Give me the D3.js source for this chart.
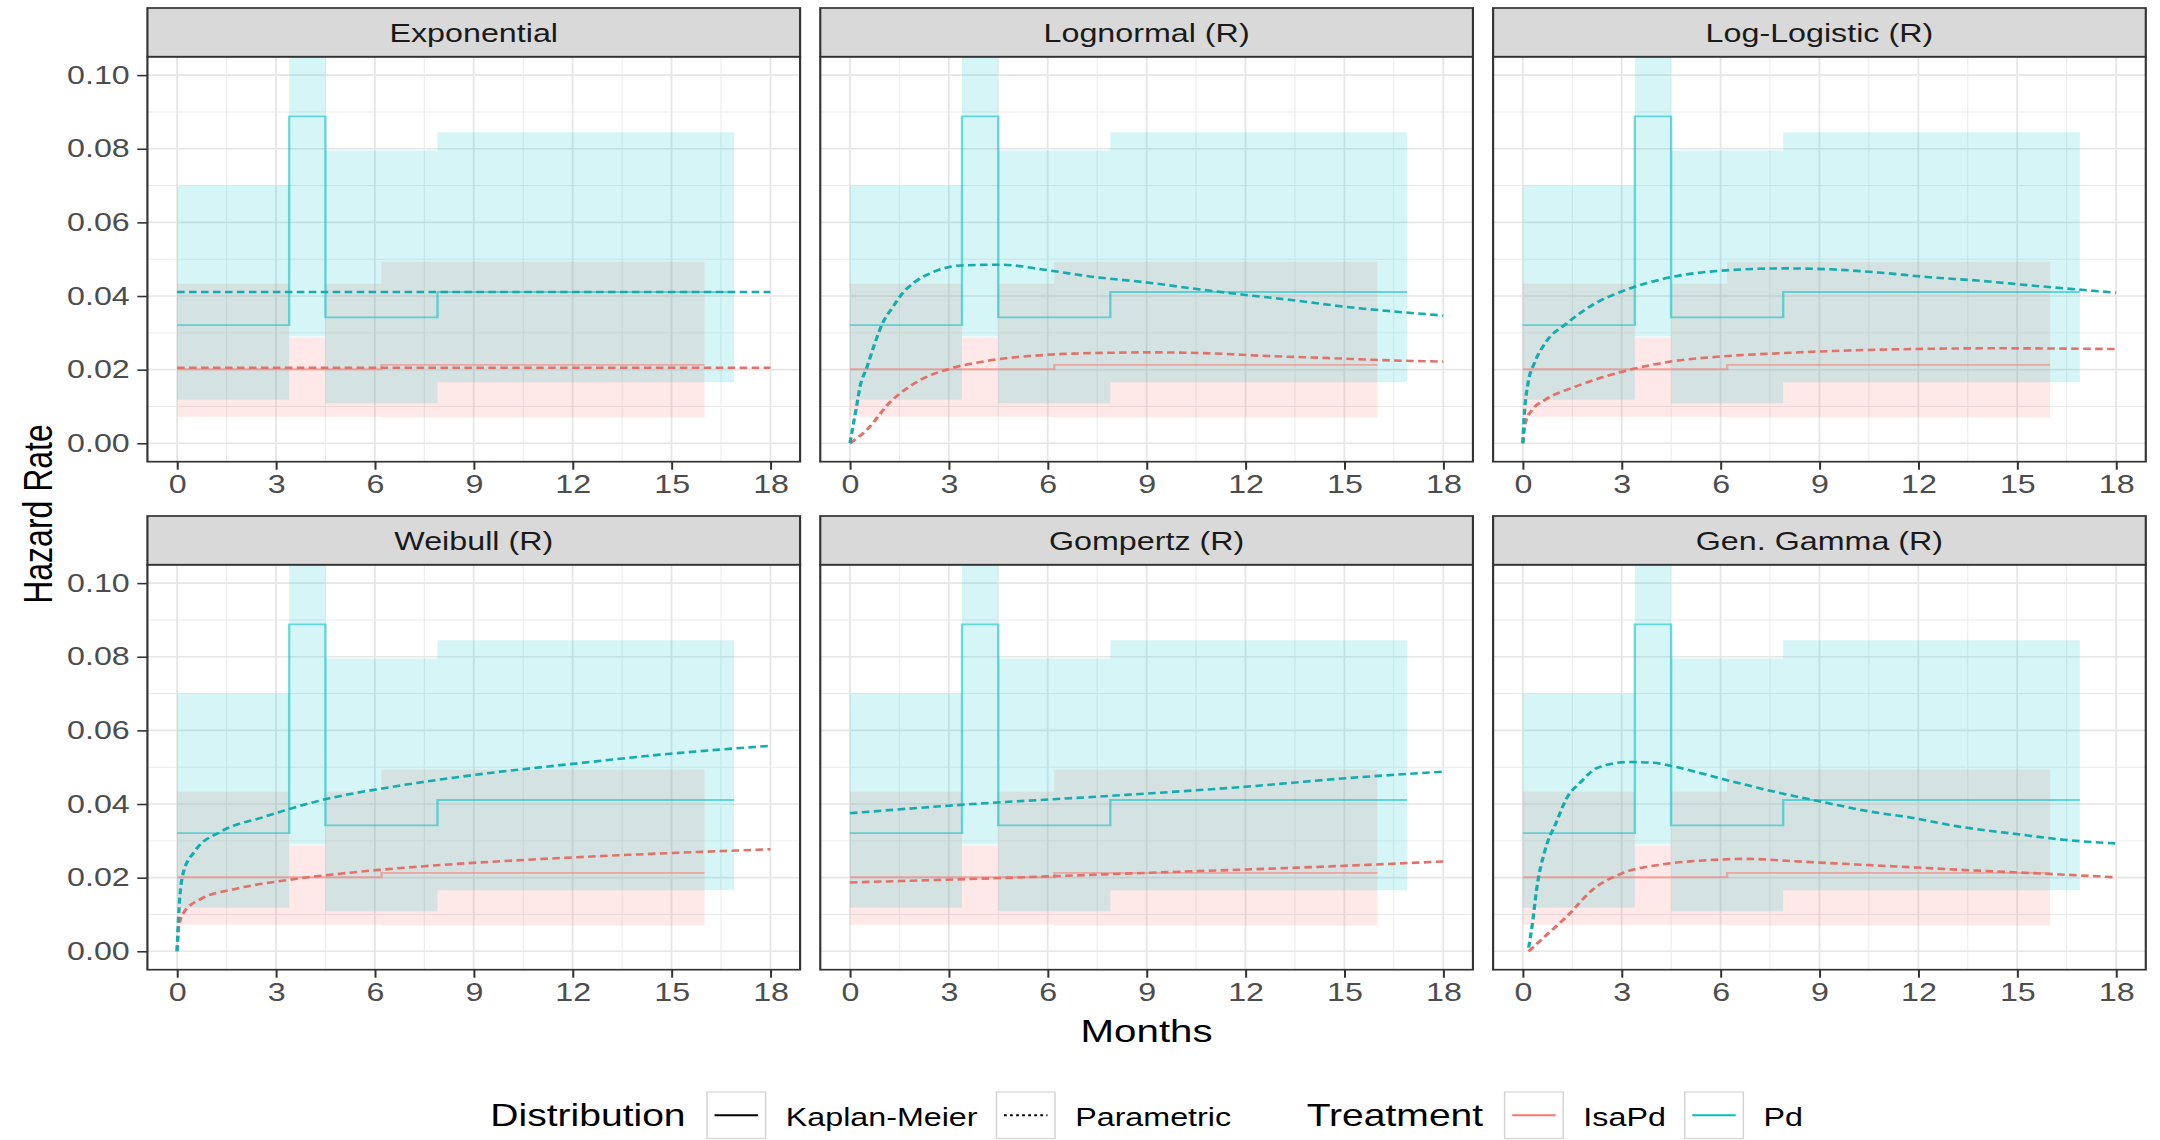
<!DOCTYPE html>
<html>
<head>
<meta charset="utf-8">
<script src="https://cdn.jsdelivr.net/npm/d3@7"></script>
<style>
  body { margin: 0; background: #fff; }
  svg { display: block; font-family: "Liberation Sans", Arial, sans-serif; }
</style>
</head>
<body>
<script>
// ---- data ----
var models = ["Exponential", "Lognormal (R)", "Log-Logistic (R)", "Weibull (R)", "Gompertz (R)", "Gen. Gamma (R)"];
var monthTicks = [0, 3, 6, 9, 12, 15, 18];
var hazardTicks = [0, 0.02, 0.04, 0.06, 0.08, 0.10];
var treatments = ["IsaPd", "Pd"];
var colours = { IsaPd: "#F8766D", Pd: "#00BFC4" };
var lineColours = { IsaPd: "#e2716a", Pd: "#13adb0" };

// Kaplan-Meier piecewise hazards with 95% band (same in every panel)
var kmIsaStart = [0, 3.4, 4.5, 6.2];
var kmIsaEnd = 16.0;
var kmIsaHazard = [0.0201, 0.0201, 0.0201, 0.0213];
var kmIsaLower = [0.0072, 0.0072, 0.0072, 0.0070];
var kmIsaUpper = [0.0433, 0.0288, 0.0433, 0.0493];

var kmPdStart = [0, 3.4, 4.5, 7.9];
var kmPdEnd = 16.9;
var kmPdHazard = [0.0321, 0.0888, 0.0342, 0.0411];
var kmPdLower = [0.0118, 0.0290, 0.0109, 0.0166];
var kmPdUpper = [0.0700, 0.1600, 0.0795, 0.0845];

// parametric hazard curves [month, hazard]
var expIsa = [[0, 0.0205], [18, 0.0205]];
var expPd = [[0, 0.0411], [18, 0.0411]];

var lnormIsa = [[0, 0], [0.51, 0.0036], [1.19, 0.0109], [2.14, 0.0172], [3.09, 0.0204], [4.17, 0.0224],
  [5.93, 0.0240], [7.97, 0.0246], [9.05, 0.0247], [10.7, 0.0245], [12.7, 0.0237], [14.7, 0.0231],
  [16.1, 0.0226], [18, 0.0222]];
var lnormPd = [[0, 0], [0.18, 0.009], [0.31, 0.0155], [0.51, 0.0205], [0.75, 0.027], [0.99, 0.0326],
  [1.3, 0.037], [1.6, 0.0408], [2.0, 0.044], [2.55, 0.0466], [3.36, 0.0483], [4.58, 0.0485],
  [5.93, 0.0471], [7.29, 0.0453], [8.98, 0.0437], [10.7, 0.0417], [12.0, 0.0403], [13.4, 0.0389],
  [15.0, 0.0371], [16.5, 0.0358], [18, 0.0347]];

var llogIsa = [[0, 0], [0.09, 0.0059], [0.29, 0.0091], [0.68, 0.0118], [1.6, 0.0154], [3.04, 0.0195],
  [4.48, 0.0222], [6.05, 0.0236], [7.89, 0.0245], [9.86, 0.0252], [11.8, 0.0256], [14.4, 0.0258],
  [18, 0.0256]];
var llogPd = [[0, 0], [0.03, 0.0054], [0.16, 0.0163], [0.35, 0.0217], [0.68, 0.0272], [1.34, 0.0326],
  [2.12, 0.0376], [3.17, 0.0418], [4.48, 0.0451], [6.05, 0.0469], [7.89, 0.0475], [9.2, 0.0473],
  [10.77, 0.0464], [12.35, 0.0451], [13.79, 0.0442], [15.5, 0.0428], [16.8, 0.0418], [18, 0.0409]];

var weibIsa = [[0, 0], [0.05, 0.0068], [0.2, 0.0105], [0.7, 0.0141], [1.8, 0.0170], [3.39, 0.0194],
  [5.76, 0.0218], [8.1, 0.0235], [10.5, 0.0248], [13.7, 0.0262], [18, 0.0277]];
var weibPd = [[0, 0], [0.06, 0.0117], [0.19, 0.0214], [0.54, 0.0272], [1.33, 0.0325], [2.6, 0.0364],
  [4.5, 0.0413], [6.55, 0.0447], [8.93, 0.0478], [12.1, 0.0510], [15.26, 0.0539], [18, 0.0558]];

var gompIsa = [[0, 0.0187], [4.22, 0.0198], [9.31, 0.0214], [14.4, 0.0230], [18, 0.0244]];
var gompPd = [[0, 0.0375], [3.4, 0.0398], [8.04, 0.0423], [11.86, 0.0446], [15.04, 0.0470], [18, 0.0488]];

var ggamIsa = [[0.18, 0], [0.68, 0.0041], [1.34, 0.0095], [2.13, 0.0168], [3.04, 0.0213], [4.23, 0.0236],
  [5.54, 0.0247], [6.85, 0.0251], [8.16, 0.0245], [9.87, 0.0237], [11.84, 0.0228], [13.8, 0.0219],
  [15.77, 0.0211], [18, 0.0201]];
var ggamPd = [[0.18, 0.001], [0.3, 0.008], [0.42, 0.0168], [0.68, 0.0276], [1.01, 0.0349], [1.34, 0.0417],
  [1.73, 0.0457], [2.26, 0.0498], [3.18, 0.0514], [3.96, 0.0512], [4.62, 0.0501], [6.06, 0.0468],
  [7.9, 0.0428], [8.96, 0.0408], [10.5, 0.0380], [11.84, 0.0362], [13.15, 0.0340], [15.1, 0.0317],
  [16.4, 0.0303], [18, 0.0293]];

var curves = [
  { IsaPd: expIsa, Pd: expPd },
  { IsaPd: lnormIsa, Pd: lnormPd },
  { IsaPd: llogIsa, Pd: llogPd },
  { IsaPd: weibIsa, Pd: weibPd },
  { IsaPd: gompIsa, Pd: gompPd },
  { IsaPd: ggamIsa, Pd: ggamPd }
];

// ---- layout ----
// the original picture is stretched sideways, so draw narrow and let the viewBox widen it
var stretch = 1.26;
var W = 2160 / stretch, H = 1140;
var panelW = 518, gap = 16, left0 = 117;
var rowTop = [8, 516];
var stripH = 48.7, panelH = 405;

var svg = d3.select('body').append('svg')
  .attr('width', 2160).attr('height', H)
  .attr('viewBox', '0 0 ' + W + ' ' + H)
  .attr('preserveAspectRatio', 'none');

var x = d3.scaleLinear().domain([-0.9, 18.9]).range([0, panelW]);
var y = d3.scaleLinear().domain([-0.005, 0.105]).range([panelH, 0]);

function stepRows(starts, end, a, b, c) {
  var rows = starts.map(function(s, i) { return [s, a[i], b ? b[i] : null, c ? c[i] : null]; });
  var last = rows[rows.length - 1];
  rows.push([end, last[1], last[2], last[3]]);
  return rows;
}

var kmData = {
  IsaPd: stepRows(kmIsaStart, kmIsaEnd, kmIsaHazard, kmIsaLower, kmIsaUpper),
  Pd: stepRows(kmPdStart, kmPdEnd, kmPdHazard, kmPdLower, kmPdUpper)
};

var band = d3.area().curve(d3.curveStepAfter)
  .x(function(d) { return x(d[0]); })
  .y0(function(d) { return y(d[2]); })
  .y1(function(d) { return y(d[3]); });
var kmLine = d3.line().curve(d3.curveStepAfter)
  .x(function(d) { return x(d[0]); })
  .y(function(d) { return y(d[1]); });
var fitLine = d3.line().curve(d3.curveMonotoneX)
  .x(function(d) { return x(d[0]); })
  .y(function(d) { return y(d[1]); });

models.forEach(function(name, i) {
  var col = i % 3, row = Math.floor(i / 3);
  var px = left0 + col * (panelW + gap);
  var top = rowTop[row];
  var g = svg.append('g').attr('transform', 'translate(' + px + ',' + (top + stripH) + ')');

  g.append('clipPath').attr('id', 'clip' + i)
    .append('rect').attr('width', panelW).attr('height', panelH);

  g.append('rect').attr('width', panelW).attr('height', panelH).attr('fill', '#fff');

  var grid = g.append('g');
  grid.selectAll('.vminor').data(d3.range(1.5, 18, 3)).enter().append('line')
    .attr('x1', x).attr('x2', x).attr('y1', 0).attr('y2', panelH)
    .attr('stroke', '#EBEBEB').attr('stroke-width', 0.8);
  grid.selectAll('.hminor').data([0.01, 0.03, 0.05, 0.07, 0.09]).enter().append('line')
    .attr('y1', y).attr('y2', y).attr('x1', 0).attr('x2', panelW)
    .attr('stroke', '#EBEBEB').attr('stroke-width', 0.9);
  grid.selectAll('.vmajor').data(monthTicks).enter().append('line')
    .attr('x1', x).attr('x2', x).attr('y1', 0).attr('y2', panelH)
    .attr('stroke', '#E6E6E6').attr('stroke-width', 1.4);
  grid.selectAll('.hmajor').data(hazardTicks).enter().append('line')
    .attr('y1', y).attr('y2', y).attr('x1', 0).attr('x2', panelW)
    .attr('stroke', '#E6E6E6').attr('stroke-width', 1.6);

  var plot = g.append('g').attr('clip-path', 'url(#clip' + i + ')');
  treatments.forEach(function(t) {
    plot.append('path').datum(kmData[t]).attr('d', band)
      .attr('fill', colours[t]).attr('fill-opacity', 0.16);
  });
  treatments.forEach(function(t) {
    plot.append('path').datum(kmData[t]).attr('d', kmLine)
      .attr('fill', 'none').attr('stroke', colours[t]).attr('stroke-opacity', 0.55)
      .attr('stroke-width', 1.9);
  });
  treatments.forEach(function(t) {
    plot.append('path').datum(curves[i][t]).attr('d', fitLine)
      .attr('fill', 'none').attr('stroke', lineColours[t]).attr('stroke-width', 2.6)
      .attr('stroke-dasharray', '6,3.5');
  });

  g.append('rect').attr('width', panelW).attr('height', panelH)
    .attr('fill', 'none').attr('stroke', '#333333').attr('stroke-width', 1.7);

  // strip
  svg.append('rect').attr('x', px).attr('y', top).attr('width', panelW).attr('height', stripH)
    .attr('fill', '#D9D9D9').attr('stroke', '#333333').attr('stroke-width', 1.7);
  svg.append('text').attr('x', px + panelW / 2).attr('y', top + stripH / 2 + 9.6)
    .attr('text-anchor', 'middle').attr('font-size', 25.6).attr('fill', '#1A1A1A').text(name);

  // x axis
  var xa = g.append('g').attr('transform', 'translate(0,' + panelH + ')')
    .call(d3.axisBottom(x).tickValues(monthTicks).tickSize(8).tickPadding(5));
  xa.select('.domain').remove();
  xa.selectAll('line').attr('stroke', '#333333').attr('stroke-width', 1.6);
  xa.selectAll('text').attr('font-size', 25.6).attr('fill', '#4D4D4D')
    .attr('font-family', '"Liberation Sans", Arial, sans-serif');

  if (col === 0) {
    var ya = g.append('g')
      .call(d3.axisLeft(y).tickValues(hazardTicks).tickFormat(d3.format('.2f')).tickSize(8).tickPadding(6));
    ya.select('.domain').remove();
    ya.selectAll('line').attr('stroke', '#333333').attr('stroke-width', 1.6);
    ya.selectAll('text').attr('font-size', 25.6).attr('fill', '#4D4D4D')
      .attr('font-family', '"Liberation Sans", Arial, sans-serif');
  }
});

// axis titles
var centreX = left0 + 1.5 * panelW + gap;
svg.append('text').attr('x', centreX).attr('y', 1042)
  .attr('text-anchor', 'middle').attr('font-size', 32).text('Months');
svg.append('text').attr('transform', 'translate(41.5,514) rotate(-90)')
  .attr('text-anchor', 'middle').attr('font-size', 32).text('Hazard Rate');

// legend
var legendGroups = [
  { title: 'Distribution', items: [
    { label: 'Kaplan-Meier', colour: '#000', dash: null },
    { label: 'Parametric', colour: '#000', dash: '2.2,2.6' }
  ] },
  { title: 'Treatment', items: [
    { label: 'IsaPd', colour: colours.IsaPd, dash: null },
    { label: 'Pd', colour: colours.Pd, dash: null }
  ] }
];
var legend = svg.append('g');
var keyTop = 1092, keyS = 46.5, base = 1126.5;
var cursor = 0;
legendGroups.forEach(function(grp, gi) {
  if (gi > 0) cursor += 60;
  var tt = legend.append('text').attr('x', cursor).attr('y', base).attr('font-size', 31).text(grp.title);
  cursor += tt.node().getComputedTextLength() + 17;
  grp.items.forEach(function(it, k) {
    if (k > 0) cursor += 15;
    legend.append('rect').attr('x', cursor).attr('y', keyTop).attr('width', keyS).attr('height', keyS)
      .attr('fill', '#fff').attr('stroke', '#D4D4D4').attr('stroke-width', 1.2);
    legend.append('line').attr('x1', cursor + 6).attr('x2', cursor + keyS - 6)
      .attr('y1', keyTop + keyS / 2).attr('y2', keyTop + keyS / 2)
      .attr('stroke', it.colour).attr('stroke-width', 1.9)
      .attr('stroke-dasharray', it.dash);
    cursor += keyS + 16;
    var lt = legend.append('text').attr('x', cursor).attr('y', base).attr('font-size', 25.6).text(it.label);
    cursor += lt.node().getComputedTextLength();
  });
});
legend.attr('transform', 'translate(' + (centreX - cursor / 2) + ',0)');
</script>
</body>
</html>
